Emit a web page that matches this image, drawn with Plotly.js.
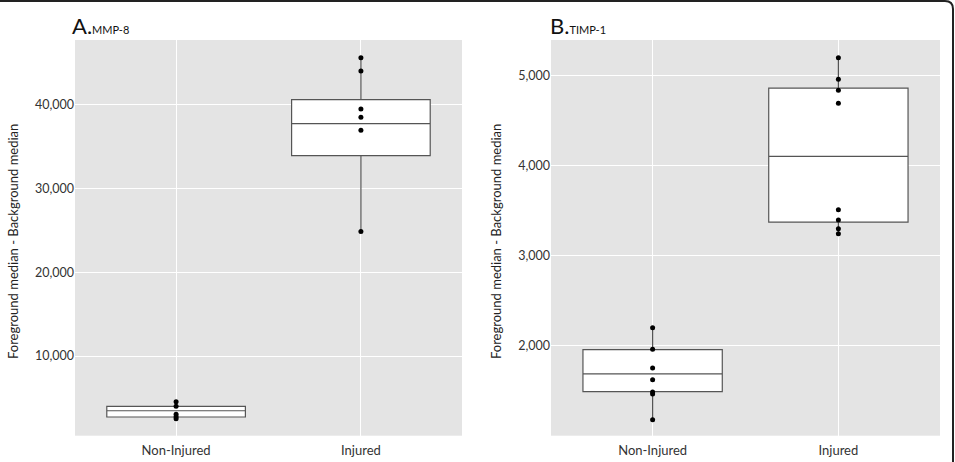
<!DOCTYPE html>
<html>
<head>
<meta charset="utf-8">
<script src="https://cdn.plot.ly/plotly-3.0.1.min.js"></script>
<style>html,body{margin:0;padding:0;background:#fff;}#chart{width:955px;height:462px;}</style>
</head>
<body>
<div id="chart"></div>
<script>
// ---- data ----
const categories = ['Non-Injured', 'Injured'];

// Panel A: MMP-8 box statistics
const mmp8Q1 = [2720, 33910];
const mmp8Median = [3470, 37730];
const mmp8Q3 = [4000, 40600];
const mmp8Lower = [2520, 24850];
const mmp8Upper = [4550, 45610];
// Panel A points
const mmp8NonInjured = [4550, 4000, 3040, 2760, 2520];
const mmp8Injured = [45610, 44020, 39490, 38500, 36950, 24850];

// Panel B: TIMP-1 box statistics
const timp1Q1 = [1490, 3372];
const timp1Median = [1686, 4101];
const timp1Q3 = [1956, 4859];
const timp1Lower = [1179, 3242];
const timp1Upper = [2200, 5195];
// Panel B points
const timp1NonInjured = [2200, 1960, 1753, 1623, 1486, 1464, 1179];
const timp1Injured = [5195, 4956, 4834, 4689, 3508, 3394, 3298, 3242];

const yTicksA = [10000, 20000, 30000, 40000];
const yTicksB = [2000, 3000, 4000, 5000];

// ---- styling ----
const FONT = 'Lato, "Open Sans", sans-serif';
const W = 955, H = 462;
const px = v => v / W;
const py = v => 1 - v / H;

function boxTrace(q1, med, q3, lo, hi, xa, ya) {
  return {
    type: 'box', x: categories, q1: q1, median: med, q3: q3,
    lowerfence: lo, upperfence: hi, boxpoints: false,
    fillcolor: '#ffffff', line: {color: '#555555', width: 1.2},
    whiskerwidth: 0, width: 0.75, xaxis: xa, yaxis: ya,
    hoverinfo: 'skip', showlegend: false
  };
}
function pointTrace(cat, vals, xa, ya) {
  return {
    type: 'scatter', mode: 'markers', x: vals.map(() => cat), y: vals,
    marker: {color: '#000000', size: 5}, xaxis: xa, yaxis: ya,
    hoverinfo: 'skip', showlegend: false
  };
}

const data = [
  boxTrace(mmp8Q1, mmp8Median, mmp8Q3, mmp8Lower, mmp8Upper, 'x', 'y'),
  pointTrace(categories[0], mmp8NonInjured, 'x', 'y'),
  pointTrace(categories[1], mmp8Injured, 'x', 'y'),
  boxTrace(timp1Q1, timp1Median, timp1Q3, timp1Lower, timp1Upper, 'x2', 'y2'),
  pointTrace(categories[0], timp1NonInjured, 'x2', 'y2'),
  pointTrace(categories[1], timp1Injured, 'x2', 'y2')
];

const xCommon = {
  type: 'category', categoryorder: 'array', categoryarray: categories,
  range: [-0.547, 1.547], showgrid: true, gridcolor: '#ffffff', gridwidth: 1,
  zeroline: false, showline: false, ticks: '', automargin: false,
  ticklabelstandoff: 5,
  tickfont: {family: FONT, size: 13, color: '#333333'}, fixedrange: true
};
const yCommon = {
  showgrid: true, gridcolor: '#ffffff', gridwidth: 1, zeroline: false,
  showline: false, ticks: '', automargin: false, tickformat: ',d',
  tickfont: {family: FONT, size: 12.5, color: '#333333'}, fixedrange: true
};

const layout = {
  width: W, height: H,
  margin: {l: 0, r: 0, t: 0, b: 0},
  paper_bgcolor: '#ffffff', plot_bgcolor: '#e4e4e4',
  showlegend: false,
  xaxis: Object.assign({}, xCommon, {domain: [px(75), px(462)], anchor: 'y'}),
  yaxis: Object.assign({}, yCommon, {domain: [1 - 435.7 / H, 1 - 40 / H], anchor: 'x',
    range: [490, 47720], tickvals: yTicksA}),
  xaxis2: Object.assign({}, xCommon, {domain: [px(551), px(940)], anchor: 'y2'}),
  yaxis2: Object.assign({}, yCommon, {domain: [1 - 435.7 / H, 1 - 40 / H], anchor: 'x2',
    range: [1001, 5392], tickvals: yTicksB}),
  annotations: [
    {xref: 'paper', yref: 'paper', x: px(70), y: py(25), xanchor: 'left', yanchor: 'middle',
     showarrow: false, font: {family: FONT, color: '#111111', size: 22},
     text: 'A.<span style="font-size:11px">MMP-8</span>'},
    {xref: 'paper', yref: 'paper', x: px(548), y: py(25), xanchor: 'left', yanchor: 'middle',
     showarrow: false, font: {family: FONT, color: '#111111', size: 22},
     text: 'B.<span style="font-size:11px">TIMP-1</span>'},
    {xref: 'paper', yref: 'paper', x: px(13), y: py(242), xanchor: 'center', yanchor: 'middle',
     textangle: -90, showarrow: false, font: {family: FONT, color: '#222222', size: 13},
     text: 'Foreground median - Background median'},
    {xref: 'paper', yref: 'paper', x: px(496), y: py(242), xanchor: 'center', yanchor: 'middle',
     textangle: -90, showarrow: false, font: {family: FONT, color: '#222222', size: 13},
     text: 'Foreground median - Background median'}
  ],
  shapes: [
    {type: 'path', xref: 'paper', yref: 'paper',
     path: 'M 0,' + py(1) + ' L ' + px(945) + ',' + py(1) + ' Q ' + px(953) + ',' + py(1) + ' ' + px(953) + ',' + py(9) + ' L ' + px(953) + ',0',
     line: {color: '#222222', width: 2}}
  ]
};

Plotly.newPlot('chart', data, layout, {displayModeBar: false, staticPlot: true});
</script>
</body>
</html>
